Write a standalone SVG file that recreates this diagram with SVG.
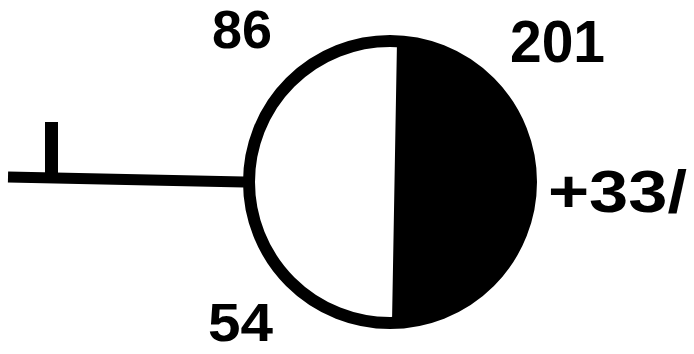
<svg xmlns="http://www.w3.org/2000/svg" width="694" height="354" viewBox="0 0 694 354">
<style>
.lbl{font-family:"Liberation Sans",Arial,sans-serif;font-weight:bold;font-size:60px;fill:#000}
.ln{stroke:#000;stroke-width:11;fill:none;stroke-linecap:butt}
</style>
<rect width="694" height="354" fill="#fff"/>
<g id="connectors">
<path class="ln" d="M8,177 L244,182"/>
<path class="ln" d="M51.5,122 L51.5,178" style="stroke-width:13"/>
</g>
<g id="station">
<path d="M397,41 A141,141 0 0,1 392,323 Z" fill="#000"/>
<circle cx="390" cy="182" r="141" fill="none" stroke="#000" stroke-width="12"/>
</g>
<g id="labels">
<text class="lbl" x="212" y="48" style="font-size:53px" textLength="60" lengthAdjust="spacingAndGlyphs">86</text>
<text class="lbl" x="510" y="62" textLength="95" lengthAdjust="spacingAndGlyphs">201</text>
<text class="lbl" x="208" y="341" style="font-size:53px" textLength="65" lengthAdjust="spacingAndGlyphs">54</text>
<text class="lbl" x="548" y="212" textLength="139" lengthAdjust="spacingAndGlyphs">+33/</text>
</g>
</svg>
